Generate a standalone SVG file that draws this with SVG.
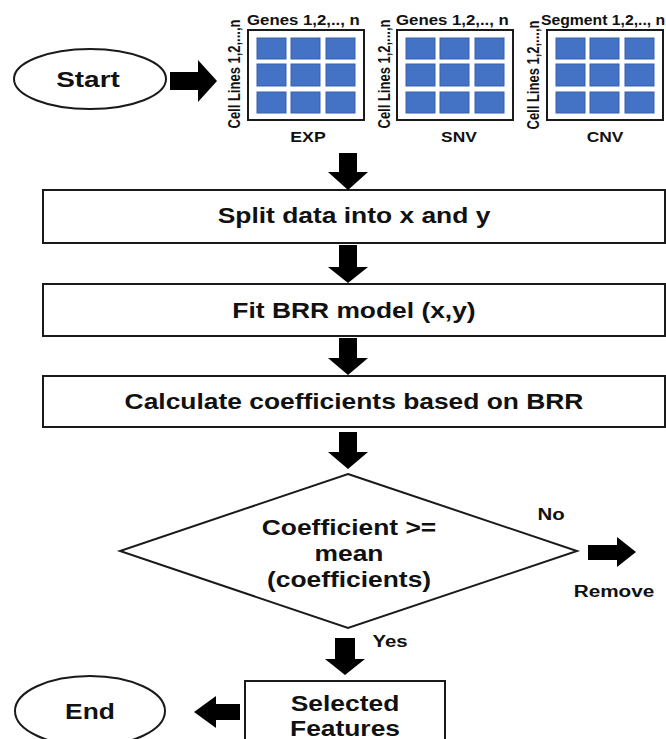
<svg xmlns="http://www.w3.org/2000/svg" width="666" height="739" viewBox="0 0 666 739">
  <style>
    text { font-family: "Liberation Sans", Arial, sans-serif; font-weight: bold; fill: #111; }
    .t22 { font-size: 22px; text-anchor: middle; }
    .t17 { font-size: 17px; text-anchor: middle; }
    .t15 { font-size: 15px; text-anchor: start; }
    .t14 { font-size: 14.5px; text-anchor: middle; }
    .t13 { font-size: 13px; text-anchor: middle; }
    .shape { fill: #fff; stroke: #1a1a1a; stroke-width: 2; }
    .cell { fill: #4472c4; stroke: #3461ad; stroke-width: 1; }
    .arrow { fill: #000; }
  </style>
  <defs>
    <!-- 3x3 grid of blue cells, positioned relative to the matrix frame -->
    <g id="grid">
      <rect class="cell" x="9" y="8" width="29" height="21"/>
      <rect class="cell" x="43" y="8" width="29" height="21"/>
      <rect class="cell" x="78" y="8" width="29" height="21"/>
      <rect class="cell" x="9" y="34" width="29" height="22"/>
      <rect class="cell" x="43" y="34" width="29" height="22"/>
      <rect class="cell" x="78" y="34" width="29" height="22"/>
      <rect class="cell" x="9" y="62" width="29" height="21"/>
      <rect class="cell" x="43" y="62" width="29" height="21"/>
      <rect class="cell" x="78" y="62" width="29" height="21"/>
    </g>
  </defs>

  <rect width="666" height="739" fill="#fff"/>

  <g id="start">
    <ellipse class="shape" cx="90" cy="79" rx="76" ry="30"/>
    <text class="t22" transform="translate(88 87) scale(1.27 1.02)">Start</text>
  </g>

  <g id="exp">
    <rect class="shape" x="248" y="30" width="116" height="90"/>
    <use href="#grid" transform="translate(248 30)"/>
    <text class="t15" transform="translate(247 25) scale(1.12 1)">Genes 1,2,.., n</text>
    <text class="t13" transform="translate(240 74) scale(1.2 1) rotate(-90)">Cell Lines 1,2,...,n</text>
    <text class="t14" transform="translate(308 142) scale(1.22 1)">EXP</text>
  </g>

  <g id="snv">
    <rect class="shape" x="397" y="30" width="116" height="90"/>
    <use href="#grid" transform="translate(397 30)"/>
    <text class="t15" transform="translate(396 25) scale(1.12 1)">Genes 1,2,.., n</text>
    <text class="t13" transform="translate(390 74) scale(1.2 1) rotate(-90)">Cell Lines 1,2,...,n</text>
    <text class="t14" transform="translate(459 142) scale(1.2 1)">SNV</text>
  </g>

  <g id="cnv">
    <rect class="shape" x="547" y="30" width="116" height="90"/>
    <use href="#grid" transform="translate(547 30)"/>
    <text class="t15" transform="translate(541 25) scale(1.05 1)">Segment 1,2,.., n</text>
    <text class="t13" transform="translate(539 75) scale(1.2 1) rotate(-90)">Cell Lines 1,2,...,n</text>
    <text class="t14" transform="translate(605 142) scale(1.2 1)">CNV</text>
  </g>

  <g id="split">
    <rect class="shape" x="43" y="190" width="622" height="53"/>
    <text class="t22" transform="translate(354 223) scale(1.2 1)">Split data into x and y</text>
  </g>

  <g id="fit">
    <rect class="shape" x="43" y="284" width="622" height="52"/>
    <text class="t22" transform="translate(354 318) scale(1.2 1)">Fit BRR model (x,y)</text>
  </g>

  <g id="calc">
    <rect class="shape" x="43" y="376" width="622" height="51"/>
    <text class="t22" transform="translate(354 409) scale(1.2 1)">Calculate coefficients based on BRR</text>
  </g>

  <g id="decision">
    <polygon class="shape" points="348,474 577,551 348,628 120,551"/>
    <text class="t22" transform="translate(349 535) scale(1.2 1)">Coefficient &gt;=</text>
    <text class="t22" transform="translate(349 561) scale(1.2 1)">mean</text>
    <text class="t22" transform="translate(349 587) scale(1.2 1)">(coefficients)</text>
  </g>

  <g id="selected">
    <rect class="shape" x="245" y="681" width="200" height="70"/>
    <text class="t22" transform="translate(345 711) scale(1.2 1)">Selected</text>
    <text class="t22" transform="translate(345 736) scale(1.2 1)">Features</text>
  </g>

  <g id="end">
    <ellipse class="shape" cx="90" cy="711" rx="75" ry="35"/>
    <text class="t22" transform="translate(90 719) scale(1.2 1)">End</text>
  </g>

  <g id="remove">
    <text class="t17" transform="translate(614 597) scale(1.22 1)">Remove</text>
  </g>

  <g id="connectors">
    <polygon class="arrow" points="170,72 198,72 198,60 217,81 198,102 198,90 170,90"/>
    <polygon class="arrow" points="339,153 357,153 357,172 368,172 348,190 328,172 339,172"/>
    <polygon class="arrow" points="339,245 357,245 357,267 368,267 348,283 328,267 339,267"/>
    <polygon class="arrow" points="339,338 357,338 357,358 368,358 348,375 328,358 339,358"/>
    <polygon class="arrow" points="339,432 357,432 357,452 368,452 348,469 328,452 339,452"/>
    <polygon class="arrow" points="588,545 617,545 617,537 636,552 617,567 617,560 588,560"/>
    <text class="t17" transform="translate(551 520) scale(1.2 1)">No</text>
    <polygon class="arrow" points="335,638 355,638 355,659 365,659 345,675 325,659 335,659"/>
    <text class="t17" transform="translate(390 647) scale(1.2 1)">Yes</text>
    <polygon class="arrow" points="240,704 216,704 216,696 194,712 216,728 216,720 240,720"/>
  </g>
</svg>
